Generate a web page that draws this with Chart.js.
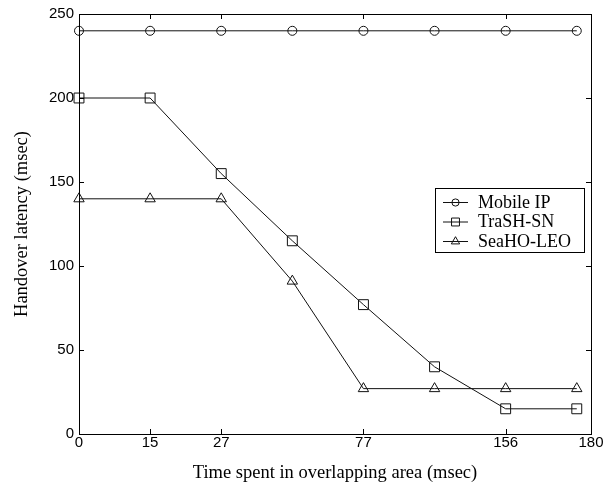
<!DOCTYPE html>
<html lang="en">
<head>
<meta charset="UTF-8">
<title>Handover latency</title>
<script src="https://cdn.jsdelivr.net/npm/chart.js"></script>
<style>
  html, body { margin: 0; padding: 0; background: #fff; }
  #grafico { display: block; }
</style>
</head>
<body>
<canvas id="grafico" width="613" height="488"></canvas>
<script>
// dados
const amostras = [0, 1, 2, 3, 4, 5, 6, 7];          // posicoes dos pontos no eixo x
const mobileIP = [240, 240, 240, 240, 240, 240, 240, 240];
const trashSN = [200, 200, 155, 115, 77, 40, 15, 15];
const seahoLEO = [140, 140, 140, 91, 27, 27, 27, 27];
const xTicks = [0, 1, 2, 4, 6, 7.2];
const xTickLabels = ['0', '15', '27', '77', '156', '180'];
const yTicks = [0, 50, 100, 150, 200, 250];

const serif = "'Liberation Serif', 'Times New Roman', serif";
const sans = "'Liberation Sans', Arial, sans-serif";

function pontos(valores) {
    return valores.map(function (v, i) { return { x: amostras[i], y: v }; });
}

function serie(nome, valores, estilo, raio) {
    return {
        label: nome,
        data: pontos(valores),
        borderColor: '#111',
        borderWidth: 1,
        pointStyle: estilo,
        pointRadius: raio,
        pointHoverRadius: raio,
        pointBorderColor: '#111',
        pointBorderWidth: 1,
        pointBackgroundColor: 'rgba(0,0,0,0)',
        backgroundColor: 'rgba(0,0,0,0)',
        tension: 0
    };
}

// moldura, tracinhos internos e legenda
const molduraPlugin = {
    id: 'moldura',
    afterDatasetsDraw(chart) {
        const ctx = chart.ctx;
        const a = chart.chartArea;
        const sx = chart.scales.x, sy = chart.scales.y;
        ctx.save();
        ctx.strokeStyle = '#000';
        ctx.lineWidth = 1;
        ctx.strokeRect(a.left + 0.5, a.top + 0.5, a.right - a.left, a.bottom - a.top);

        const t = 5;
        ctx.beginPath();
        xTicks.forEach(function (v) {
            const px = Math.round(sx.getPixelForValue(v)) + 0.5;
            ctx.moveTo(px, a.bottom); ctx.lineTo(px, a.bottom - t);
            ctx.moveTo(px, a.top); ctx.lineTo(px, a.top + t);
        });
        yTicks.forEach(function (v) {
            const py = Math.round(sy.getPixelForValue(v)) + 0.5;
            ctx.moveTo(a.left, py); ctx.lineTo(a.left + t, py);
            ctx.moveTo(a.right, py); ctx.lineTo(a.right - t, py);
        });
        ctx.stroke();

        // legenda
        const bx = 435.5, by = 188.5, bw = 149, bh = 64;
        ctx.fillStyle = '#fff';
        ctx.fillRect(bx, by, bw, bh);
        ctx.strokeRect(bx, by, bw, bh);
        ctx.font = '18px ' + serif;
        ctx.textBaseline = 'middle';
        chart.data.datasets.forEach(function (ds, i) {
            const y = 202 + i * 19.5;
            ctx.strokeStyle = '#111';
            ctx.beginPath();
            ctx.moveTo(443, y + 0.5); ctx.lineTo(468, y + 0.5);
            ctx.stroke();
            ctx.fillStyle = 'rgba(0,0,0,0)';
            Chart.helpers.drawPoint(ctx, {
                pointStyle: ds.pointStyle,
                rotation: 0,
                borderWidth: 1,
                radius: ds.pointRadius * 0.8
            }, 455.5, y + 0.5);
            ctx.fillStyle = '#000';
            ctx.fillText(ds.label, 478, y + 1);
        });
        ctx.restore();
    }
};

new Chart(document.getElementById('grafico').getContext('2d'), {
    type: 'line',
    data: {
        datasets: [
            serie('Mobile IP', mobileIP, 'circle', 4.5),
            serie('TraSH-SN', trashSN, 'rect', 7),
            serie('SeaHO-LEO', seahoLEO, 'triangle', 6)
        ]
    },
    options: {
        responsive: false,
        animation: false,
        clip: false,
        layout: { padding: { left: 0, top: 12, right: 22, bottom: 0 } },
        plugins: {
            legend: { display: false },
            tooltip: { enabled: false }
        },
        scales: {
            x: {
                type: 'linear',
                min: 0,
                max: 7.2,
                grid: { display: false, drawTicks: false },
                border: { display: false },
                afterBuildTicks: function (scale) {
                    scale.ticks = xTicks.map(function (v) { return { value: v }; });
                },
                afterFit: function (scale) { scale.height = 54; },
                ticks: {
                    color: '#000',
                    font: { family: sans, size: 15 },
                    padding: 0,
                    maxRotation: 0,
                    autoSkip: false,
                    callback: function (v) {
                        const i = xTicks.indexOf(v);
                        return i >= 0 ? xTickLabels[i] : '';
                    }
                },
                title: {
                    display: true,
                    text: 'Time spent in overlapping area (msec)',
                    color: '#000',
                    font: { family: serif, size: 18.5 },
                    padding: { top: 0, bottom: 4 }
                }
            },
            y: {
                min: 0,
                max: 250,
                grid: { display: false, drawTicks: false },
                border: { display: false },
                afterBuildTicks: function (scale) {
                    scale.ticks = yTicks.map(function (v) { return { value: v }; });
                },
                afterFit: function (scale) { scale.width = 79; },
                ticks: {
                    color: '#000',
                    font: { family: sans, size: 15 },
                    padding: 5
                },
                title: {
                    display: true,
                    text: 'Handover latency (msec)',
                    color: '#000',
                    font: { family: serif, size: 18.5 },
                    padding: { top: 11, bottom: 0 }
                }
            }
        }
    },
    plugins: [molduraPlugin]
});
</script>
</body>
</html>
